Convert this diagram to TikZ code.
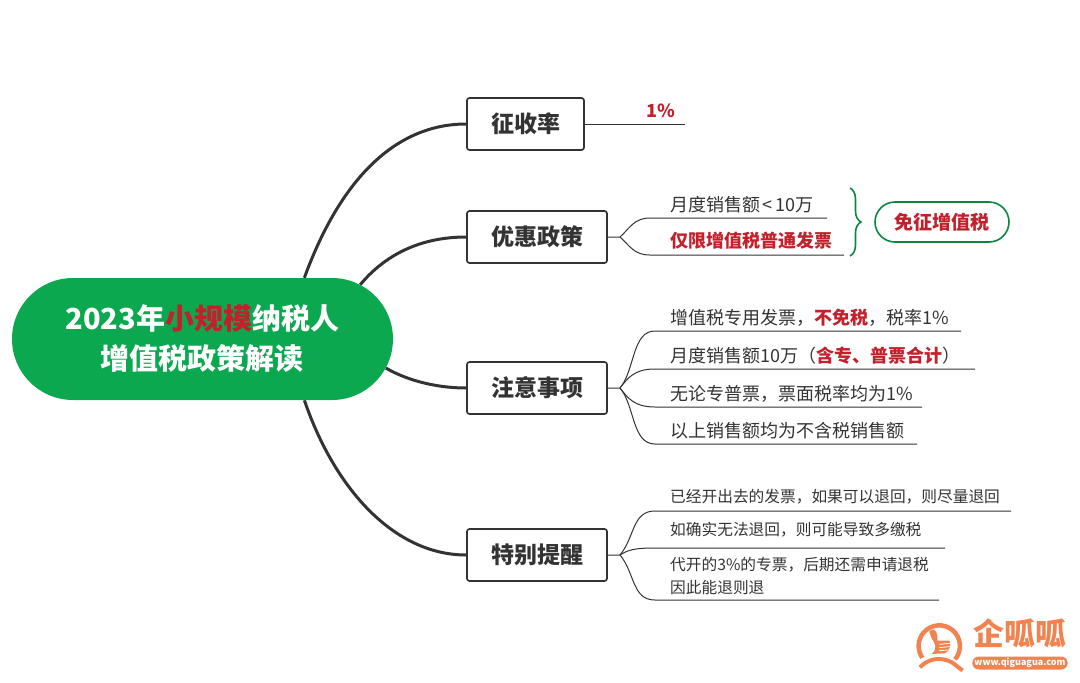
\documentclass[tikz,border=0pt]{standalone}
\usepackage{fontspec}
\setmainfont{Noto Sans CJK SC}
\usetikzlibrary{shapes.misc,backgrounds,decorations.pathreplacing}
\definecolor{zsInk}{HTML}{333333}
\definecolor{zsGreen}{HTML}{0BA84F}
\definecolor{zsRed}{HTML}{C4202C}
\definecolor{zsLogo}{HTML}{F0834F}
\begin{document}
\begin{tikzpicture}[x=1pt,y=-1pt]
\tikzset{
    zsMain/.style={rounded rectangle,fill=zsGreen,minimum width=381pt,minimum height=122pt,inner sep=0pt,align=center,text=white,font=\fontsize{29}{40}\selectfont\bfseries},
    zsTopic/.style={rectangle,rounded corners=2.5pt,draw=zsInk,line width=1.7pt,fill=white,minimum height=52pt,inner sep=0pt,text=zsInk,font=\fontsize{23}{28}\selectfont\bfseries},
    zsLeaf/.style={anchor=west,inner sep=0pt,text=zsInk,font=\fontsize{18}{23}\selectfont},
    zsNote/.style={zsLeaf,font=\fontsize{15.7}{23}\selectfont,align=left},
    zsLink/.style={draw=zsInk,line width=3pt},
    zsTwig/.style={draw=zsInk,line width=1pt},
}
\useasboundingbox (0,0) rectangle (1080,683);

\node[zsMain] (main) at (202.5,339) {2023年\textcolor{zsRed}{小规模}纳税人\\增值税政策解读};

\node[zsTopic,minimum width=117pt] (rate) at (525.5,124) {征收率};
\node[zsTopic,minimum width=140pt] (perk) at (537,237) {优惠政策};
\node[zsTopic,minimum width=140pt] (note) at (537,388) {注意事项};
\node[zsTopic,minimum width=140pt] (tip) at (537,555) {特别提醒};

\begin{scope}[on background layer]
\draw[zsLink] (main.31) .. controls (340,180) and (395,124) .. (rate.west);
\draw[zsLink] (main.19) .. controls (385,255) and (420,237) .. (perk.west);
\draw[zsLink] (main.-9) .. controls (410,382) and (440,388) .. (note.west);
\draw[zsLink] (main.-31) .. controls (335,490) and (395,555) .. (tip.west);
\end{scope}

% junctions
\coordinate (perkJ) at (620,237);
\coordinate (noteJ) at (620,388);
\coordinate (tipJ) at (620,555);

% line ends
\coordinate (r1) at (685,124);
\coordinate (p1) at (827,218);
\coordinate (p2) at (844,255);
\coordinate (n1) at (961,331);
\coordinate (n2) at (975,369);
\coordinate (n3) at (922,407);
\coordinate (n4) at (917,444);
\coordinate (t1) at (1011,511);
\coordinate (t2) at (945,548);
\coordinate (t3) at (939,600);

\draw[zsTwig] (rate.east) -- (r1);
\draw[zsTwig] (perk.east) -- (perkJ) .. controls (630,228) and (634,218) .. (650,218) -- (p1);
\draw[zsTwig] (perkJ) .. controls (630,246) and (634,255) .. (650,255) -- (p2);
\draw[zsTwig] (note.east) -- (noteJ) .. controls (635,370) and (632,331) .. (655,331) -- (n1);
\draw[zsTwig] (noteJ) .. controls (628,378) and (634,369) .. (655,369) -- (n2);
\draw[zsTwig] (noteJ) .. controls (628,398) and (634,407) .. (655,407) -- (n3);
\draw[zsTwig] (noteJ) .. controls (635,406) and (632,444) .. (655,444) -- (n4);
\draw[zsTwig] (tip.east) -- (tipJ) .. controls (635,537) and (632,511) .. (655,511) -- (t1);
\draw[zsTwig] (tipJ) .. controls (628,550) and (634,548) .. (655,548) -- (t2);
\draw[zsTwig] (tipJ) .. controls (635,573) and (632,600) .. (655,600) -- (t3);

\node[inner sep=0pt,text=zsRed,font=\fontsize{18}{22}\selectfont\bfseries] (rateVal) at (661,111) {1\%};

\node[zsLeaf] (p1Text) at (670,205) {月度销售额\kern2pt<\kern3pt 10万};
\node[zsLeaf,text=zsRed,font=\fontsize{18}{23}\selectfont\bfseries] (p2Text) at (670,241) {仅限增值税普通发票};

\node[zsLeaf] (n1Text) at (670,318) {增值税专用发票，\textcolor{zsRed}{\bfseries 不免税}，税率1\%};
\node[zsLeaf] (n2Text) at (670,356) {月度销售额10万（\textcolor{zsRed}{\bfseries 含专、普票合计}）};
\node[zsLeaf] (n3Text) at (670,394) {无论专普票，票面税率均为1\%};
\node[zsLeaf] (n4Text) at (670,431) {以上销售额均为不含税销售额};

\node[zsNote] (t1Text) at (670,497) {已经开出去的发票，如果可以退回，则尽量退回};
\node[zsNote] (t2Text) at (670,530) {如确实无法退回，则可能导致多缴税};
\node[zsNote] (t3Text) at (670,576) {代开的3\%的专票，后期还需申请退税\\因此能退则退};

\draw[draw=zsGreen!80!black,line width=1.6pt,decorate,decoration={brace,amplitude=11pt}] (850,188) -- (850,256);
\node[rounded rectangle,draw=zsGreen!80!black,line width=1.6pt,fill=white,minimum width=134pt,minimum height=40pt,inner sep=0pt,text=zsRed,font=\fontsize{19}{24}\selectfont\bfseries] (free) at (942,222) {免征增值税};

% logo
\begin{scope}[shift={(900pt,-610pt)},x=0.333pt,y=-0.333pt]
\draw[zsLogo,line width=4.5pt] (165.5,147.9) arc[start angle=40,end angle=-215,radius=62];
\draw[zsLogo,line width=4pt] (60,172) .. controls (80,150) and (120,135) .. (160,160) -- (188,182);
\fill[zsLogo] (88,65) .. controls (95,52) and (112,58) .. (112,78) -- (112,92) -- (148,92) .. controls (155,100) and (150,125) .. (135,130) -- (95,132) .. controls (115,115) and (105,100) .. (95,85) -- cycle;
\draw[white,line width=0.8pt] (118,103) -- (150,100);
\draw[white,line width=0.8pt] (118,113) -- (150,110);
\draw[white,line width=0.8pt] (118,122) -- (146,120);
\end{scope}
\node[inner sep=0pt,text=zsLogo,font=\fontsize{31}{36}\selectfont\bfseries] (logoText) at (1020,633) {企呱呱};
\node[rounded rectangle,fill=zsLogo,minimum width=94pt,minimum height=13pt,inner sep=0pt,text=white,font=\fontsize{9}{10}\selectfont\bfseries] (logoUrl) at (1020,663) {www.qiguagua.com};
\end{tikzpicture}
\end{document}
